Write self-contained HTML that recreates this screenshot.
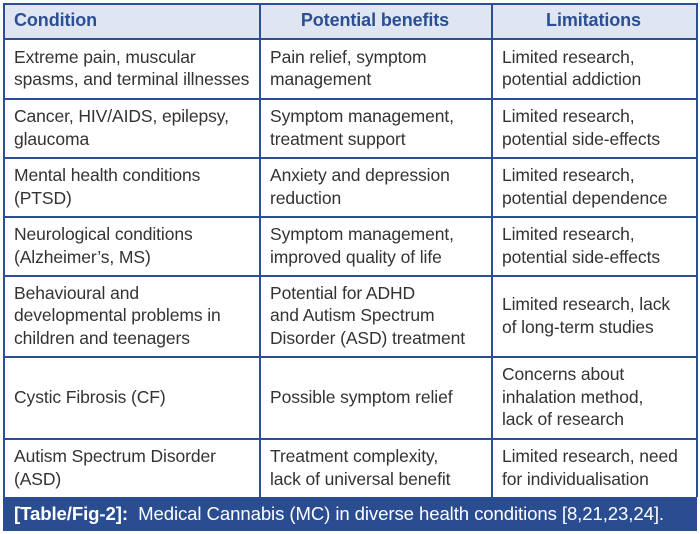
<!DOCTYPE html>
<html><head><meta charset="utf-8"><style>
body{margin:0;width:700px;height:534px;background:#fff;font-family:"Liberation Sans",Arial,sans-serif;position:relative;overflow:hidden}
.c{position:absolute;display:flex;align-items:center;box-sizing:border-box;padding-left:11px;font-size:17.5px;line-height:22.5px;color:#333;letter-spacing:-0.1px}
.h{color:#2c4f93;font-weight:bold;justify-content:center;padding-left:0;font-size:18px}
.hl{position:absolute;height:1.5px;background:#2c4f93;left:3px;width:694px}
.vl{position:absolute;width:1.5px;background:#2c4f93;top:3px;height:494px}
</style></head><body>
<div style="position:absolute;left:3px;top:3px;width:694px;height:35px;background:#dfe6f1"></div>
<div class="hl" style="top:3px"></div>
<div class="hl" style="top:38px"></div>
<div class="hl" style="top:98px"></div>
<div class="hl" style="top:157px"></div>
<div class="hl" style="top:216px"></div>
<div class="hl" style="top:275px"></div>
<div class="hl" style="top:356px"></div>
<div class="hl" style="top:438px"></div>
<div class="vl" style="left:3px"></div>
<div class="vl" style="left:259px"></div>
<div class="vl" style="left:491px"></div>
<div class="vl" style="left:696px"></div>

<div class="c" style="left:3px;top:3px;width:256px;height:35px;color:#2c4f93;font-weight:bold;font-size:18px">Condition</div>
<div class="c h" style="left:259px;top:3px;width:232px;height:35px">Potential benefits</div>
<div class="c h" style="left:491px;top:3px;width:205px;height:35px">Limitations</div>

<div class="c" style="left:3px;top:38px;width:256px;height:60px">Extreme pain, muscular<br>spasms, and terminal illnesses</div>
<div class="c" style="left:259px;top:38px;width:232px;height:60px">Pain relief, symptom<br>management</div>
<div class="c" style="left:491px;top:38px;width:205px;height:60px">Limited research,<br>potential addiction</div>

<div class="c" style="left:3px;top:98px;width:256px;height:59px">Cancer, HIV/AIDS, epilepsy,<br>glaucoma</div>
<div class="c" style="left:259px;top:98px;width:232px;height:59px">Symptom management,<br>treatment support</div>
<div class="c" style="left:491px;top:98px;width:205px;height:59px">Limited research,<br>potential side-effects</div>

<div class="c" style="left:3px;top:157px;width:256px;height:59px">Mental health conditions<br>(PTSD)</div>
<div class="c" style="left:259px;top:157px;width:232px;height:59px">Anxiety and depression<br>reduction</div>
<div class="c" style="left:491px;top:157px;width:205px;height:59px">Limited research,<br>potential dependence</div>

<div class="c" style="left:3px;top:216px;width:256px;height:59px">Neurological conditions<br>(Alzheimer’s, MS)</div>
<div class="c" style="left:259px;top:216px;width:232px;height:59px">Symptom management,<br>improved quality of life</div>
<div class="c" style="left:491px;top:216px;width:205px;height:59px">Limited research,<br>potential side-effects</div>

<div class="c" style="left:3px;top:275px;width:256px;height:81px">Behavioural and<br>developmental problems in<br>children and teenagers</div>
<div class="c" style="left:259px;top:275px;width:232px;height:81px">Potential for ADHD<br>and Autism Spectrum<br>Disorder (ASD) treatment</div>
<div class="c" style="left:491px;top:275px;width:205px;height:81px">Limited research, lack<br>of long-term studies</div>

<div class="c" style="left:3px;top:356px;width:256px;height:82px">Cystic Fibrosis (CF)</div>
<div class="c" style="left:259px;top:356px;width:232px;height:82px">Possible symptom relief</div>
<div class="c" style="left:491px;top:356px;width:205px;height:82px">Concerns about<br>inhalation method,<br>lack of research</div>

<div class="c" style="left:3px;top:438px;width:256px;height:59px">Autism Spectrum Disorder<br>(ASD)</div>
<div class="c" style="left:259px;top:438px;width:232px;height:59px">Treatment complexity,<br>lack of universal benefit</div>
<div class="c" style="left:491px;top:438px;width:205px;height:59px">Limited research, need<br>for individualisation</div>

<div class="c" style="left:3px;top:497px;width:694px;height:34px;background:#2a4d92;color:#fff;padding-left:11px;font-size:18.6px"><b>[Table/Fig-2]:</b>&nbsp; Medical Cannabis (MC) in diverse health conditions [8,21,23,24].</div>
</body></html>
